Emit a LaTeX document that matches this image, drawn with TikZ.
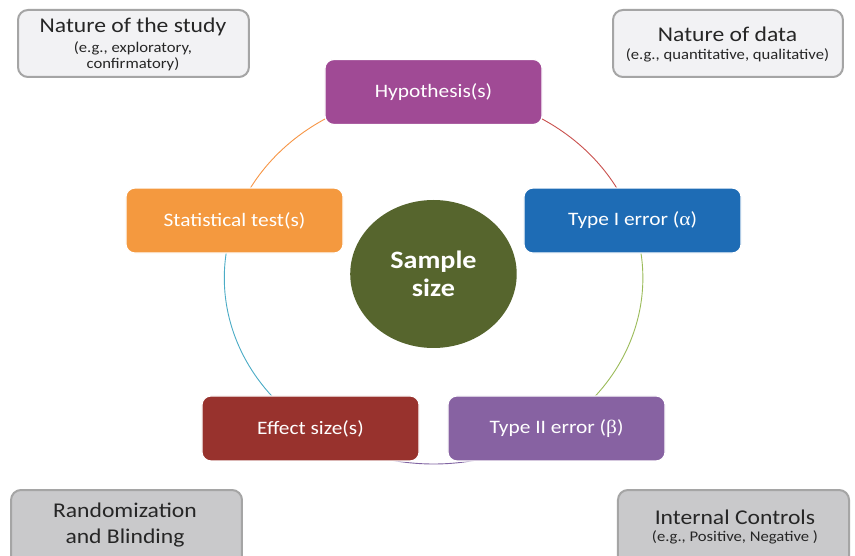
\documentclass[tikz,border=0pt]{standalone}
\usepackage{fontspec}
\setmainfont{Carlito}
\newfontfamily\grk{Liberation Serif}
\usetikzlibrary{backgrounds}
\definecolor{cHyp}{HTML}{A04A95}
\definecolor{cStat}{HTML}{F4993F}
\definecolor{cTone}{HTML}{1E6CB5}
\definecolor{cEff}{HTML}{98322D}
\definecolor{cTtwo}{HTML}{8762A2}
\definecolor{cSam}{HTML}{56652D}
\definecolor{aRed}{HTML}{C9504D}
\definecolor{aGreen}{HTML}{9BBB59}
\definecolor{aPurple}{HTML}{8064A2}
\definecolor{aBlue}{HTML}{4BACC6}
\definecolor{aOrange}{HTML}{F79646}
\definecolor{gLight}{HTML}{F2F2F4}
\definecolor{gDark}{HTML}{C9C9CB}
\definecolor{gEdge}{HTML}{A5A5A5}
\definecolor{tDark}{HTML}{262626}
\begin{document}
\begin{tikzpicture}[x=1pt,y=1pt,xscale=1.125,transform shape,
  cbox/.style={rounded corners=9pt, minimum width=193pt, minimum height=65pt,
    draw=white, line width=1.2pt, text=white, inner sep=0pt,
    font=\fontsize{19}{22}\selectfont},
  gbox/.style={rounded corners=10pt, draw=gEdge, line width=2pt, inner sep=0pt},
  bigline/.style={anchor=base, text=tDark, inner sep=0pt, font=\fontsize{21}{24}\selectfont},
  smallline/.style={anchor=base, text=tDark, inner sep=0pt, font=\fontsize{14.8}{17}\selectfont},
  ringline/.style={line width=0.9pt}]
\useasboundingbox (0,0) rectangle (760,555);

% gray boxes
\node[gbox, fill=gLight, minimum width=205.3pt, minimum height=67pt] (study) at (118.65,511.5) {};
\node[gbox, fill=gLight, minimum width=204.4pt, minimum height=67pt] (data) at (647.1,511.5) {};
\node[gbox, fill=gDark, minimum width=205.3pt, minimum height=100pt] (rand) at (112.45,15) {};
\node[gbox, fill=gDark, minimum width=205.4pt, minimum height=100pt] (ctrl) at (652,15) {};

\node[bigline] (study1) at (118.2,522) {Nature of the study};
\node[smallline] (study2) at (118.2,502) {(e.g., exploratory,};
\node[smallline] (study3) at (118.2,486) {confirmatory)};
\node[bigline] (data1) at (646.7,513.3) {Nature of data};
\node[smallline] (data2) at (646.7,495.7) {(e.g., quantitative, qualitative)};
\node[bigline] (rand1) at (111.1,37.7) {Randomization};
\node[bigline] (rand2) at (111.1,11.7) {and Blinding};
\node[bigline] (ctrl1) at (653.3,30.7) {Internal Controls};
\node[smallline] (ctrl2) at (653.3,13.3) {(e.g., Positive, Negative )};

% cycle
\coordinate (ctr) at (385.3,277);
\path (ctr) ++(90:186) node[cbox, fill=cHyp] (hyp) {Hypothesis(s)};
\path (ctr) ++(18:186) node[cbox, fill=cTone] (tone) {Type I error ({\grk α})};
\path (ctr) ++(-54:186) node[cbox, fill=cTtwo] (ttwo) {Type II error ({\grk β})};
\path (ctr) ++(-126:186) node[cbox, fill=cEff] (eff) {Effect size(s)};
\path (ctr) ++(162:186) node[cbox, fill=cStat] (stat) {Statistical test(s)};
\node[circle, fill=cSam, minimum size=148pt, inner sep=0pt, text=white, align=center,
  font=\bfseries\fontsize{25}{28}\selectfont] (ss) at (385.3,281) {Sample\\size};

\begin{scope}[on background layer]
\fill[white] (0,0) rectangle (760,555);
\draw[ringline, aRed] (hyp.center) arc[start angle=90, end angle=18, radius=186];
\draw[ringline, aGreen] (tone.center) arc[start angle=18, end angle=-54, radius=186];
\draw[ringline, aPurple] (ttwo.center) arc[start angle=-54, end angle=-126, radius=186];
\draw[ringline, aBlue] (eff.center) arc[start angle=-126, end angle=-198, radius=186];
\draw[ringline, aOrange] (stat.center) arc[start angle=162, end angle=90, radius=186];
\end{scope}
\end{tikzpicture}
\end{document}
